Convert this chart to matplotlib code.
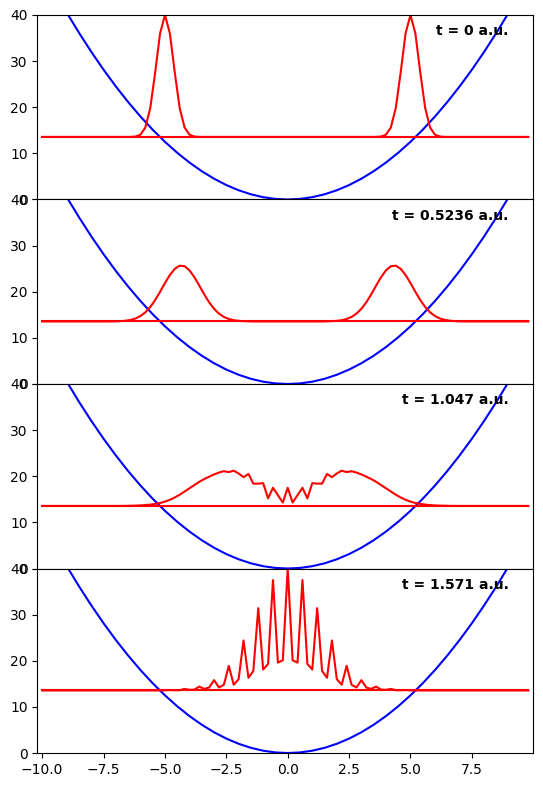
import numpy as np
import matplotlib
matplotlib.use("Agg")
import matplotlib.pyplot as plt

# ---- data ----
times = ["0", "0.5236", "1.047", "1.571"]
energy = 13.56

# spatial grid of the simulation (x = -10 ... 9.8, step 0.2)
x = np.round(np.arange(100) * 0.2 - 10.0, 1)

# harmonic potential sampled every 0.5
x_pot = [-10, -9.5, -9, -8.5, -8, -7.5, -7, -6.5, -6, -5.5, -5, -4.5, -4, -3.5,
         -3, -2.5, -2, -1.5, -1, -0.5, 0, 0.5, 1, 1.5, 2, 2.5, 3, 3.5, 4, 4.5,
         5, 5.5, 6, 6.5, 7, 7.5, 8, 8.5, 9, 9.5, 9.8]
v_pot = [50.0, 45.125, 40.5, 36.125, 32.0, 28.125, 24.5, 21.125, 18.0, 15.125,
         12.5, 10.125, 8.0, 6.125, 4.5, 3.125, 2.0, 1.125, 0.5, 0.125, 0.0,
         0.125, 0.5, 1.125, 2.0, 3.125, 4.5, 6.125, 8.0, 10.125, 12.5, 15.125,
         18.0, 21.125, 24.5, 28.125, 32.0, 36.125, 40.5, 45.125, 48.02]

# |psi|^2 (scaled, offset by energy) on x = -7.0 ... 7.0 (71 points)
dens_t0 = [13.56, 13.56, 13.56, 13.57, 13.64, 14.04, 15.6, 19.8, 27.5, 36.0,
           40.0, 36.0, 27.5, 19.8, 15.6, 14.04, 13.64, 13.57,
           13.56, 13.56, 13.56, 13.56, 13.56, 13.56, 13.56, 13.56, 13.56, 13.56,
           13.56, 13.56, 13.56, 13.56, 13.56, 13.56, 13.56, 13.56, 13.56, 13.56,
           13.56, 13.56, 13.56, 13.56, 13.56, 13.56, 13.56, 13.56, 13.56, 13.56,
           13.56, 13.56, 13.56, 13.56, 13.56,
           13.57, 13.64, 14.04, 15.6, 19.8, 27.5, 36.0, 40.0, 36.0, 27.5, 19.8,
           15.6, 14.04, 13.64, 13.57, 13.56, 13.56, 13.56]

dens_t1 = [13.59, 13.63, 13.72, 13.89, 14.20, 14.72, 15.53, 16.68, 18.19, 19.98,
           21.88, 23.64, 24.97, 25.65, 25.53, 24.63, 23.14, 21.31, 19.42, 17.70,
           16.30, 15.25, 14.54, 14.09, 13.83, 13.69, 13.62, 13.58,
           13.56, 13.56, 13.56, 13.56, 13.56, 13.56, 13.56, 13.56, 13.56, 13.56,
           13.56, 13.56, 13.56, 13.56, 13.56,
           13.58, 13.62, 13.69, 13.83, 14.09, 14.54, 15.25, 16.30, 17.70, 19.42,
           21.31, 23.14, 24.63, 25.53, 25.65, 24.97, 23.64, 21.88, 19.98, 18.19,
           16.68, 15.53, 14.72, 14.20, 13.89, 13.72, 13.63, 13.59]

dens_t2 = [13.56, 13.57, 13.58, 13.6, 13.63, 13.68, 13.75, 13.85, 14.0, 14.2,
           14.5, 14.9, 15.4, 16.0, 16.7, 17.4, 18.1, 18.8, 19.4, 19.9,
           20.4, 20.8, 21.1, 20.9, 21.2, 20.6, 19.8, 20.5, 18.4, 18.4,
           18.5, 15.2, 17.5, 15.9, 14.3,
           17.5,
           14.3, 15.9, 17.5, 15.2, 18.5, 18.4, 18.4, 20.5, 19.8, 20.6,
           21.2, 20.9, 21.1, 20.8, 20.4, 19.9, 19.4, 18.8, 18.1, 17.4,
           16.7, 16.0, 15.4, 14.9, 14.5, 14.2, 14.0, 13.85, 13.75, 13.68,
           13.63, 13.6, 13.58, 13.57, 13.56]

dens_t3 = [13.56, 13.56, 13.56, 13.56, 13.56, 13.56, 13.56, 13.56, 13.56, 13.57,
           13.57, 13.66, 13.6, 13.62, 13.9, 13.7, 13.75, 14.4, 13.9, 14.2,
           15.8, 14.2, 14.8, 18.9, 14.8, 16.0, 24.4, 16.3, 17.8, 31.4,
           18.1, 19.3, 37.5, 19.6, 20.1,
           40.0,
           20.1, 19.6, 37.5, 19.3, 18.1, 31.4, 17.8, 16.3, 24.4, 16.0,
           14.8, 18.9, 14.8, 14.2, 15.8, 14.2, 13.9, 14.4, 13.75, 13.7,
           13.9, 13.62, 13.6, 13.66, 13.57, 13.57, 13.56, 13.56, 13.56, 13.56,
           13.56, 13.56, 13.56, 13.56, 13.56]

densities = [dens_t0, dens_t1, dens_t2, dens_t3]

# ---- figure ----
fig, axes = plt.subplots(4, 1, sharex=True, figsize=(5.43, 7.88), dpi=100)
fig.subplots_adjust(left=0.0687, right=0.982, top=0.981, bottom=0.0444, hspace=0)

for ax, t, dens in zip(axes, times, densities):
    full = np.concatenate([np.full(15, energy), np.array(dens), np.full(14, energy)])
    ax.plot(x_pot, v_pot, color="blue", lw=1.5)
    ax.plot(x, np.full(len(x), energy), color="red", lw=1.5)
    ax.plot(x, full, color="red", lw=1.5)
    ax.set_ylim(0, 40)
    ax.set_yticks([0, 10, 20, 30, 40])
    ax.text(0.95, 0.95, f"t = {t} a.u.", transform=ax.transAxes,
            ha="right", va="top", fontsize=10, fontweight="bold")

axes[-1].set_xlim(-10.2, 10.0)
axes[-1].set_xticks([-10, -7.5, -5, -2.5, 0, 2.5, 5, 7.5])

fig.savefig("out.png", dpi=100)
